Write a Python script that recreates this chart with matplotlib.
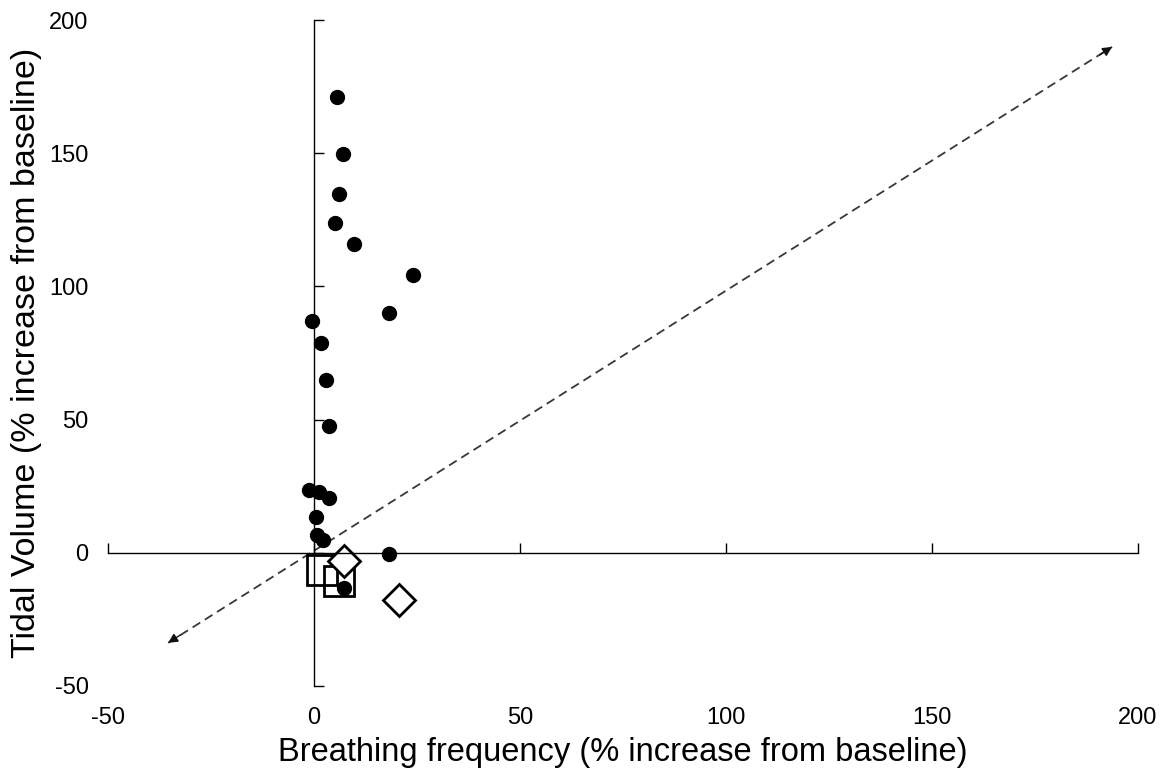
import matplotlib
matplotlib.use("Agg")
import matplotlib.pyplot as plt

plt.rcParams['font.family'] = ['Liberation Sans', 'DejaVu Sans']
plt.rcParams['axes.unicode_minus'] = False

# Filled circles
circle_x = [5.6, 7.0, 6.1, 5.1, 9.7, 24.0, 18.2, -0.5, 1.7, 2.9, 3.6, -1.2, 1.2, 3.6, 0.5, 0.7, 2.2, 18.2, 7.3]
circle_y = [171.1, 149.7, 134.7, 123.8, 115.9, 104.3, 90.1, 87.1, 78.8, 64.9, 47.7, 23.6, 22.9, 20.6, 13.5, 6.8, 4.9, -0.4, -13.1]
# Open squares
square_x = [1.9, 6.0]
square_y = [-6.4, -10.6]
# Open diamonds
diamond_x = [7.3, 20.7]
diamond_y = [-3.0, -17.9]
# Identity line (y = x) endpoints
line_x = [-35.4, 193.7]
line_y = [-33.8, 189.9]

ticks_x = [-50, 0, 50, 100, 150, 200]
ticks_y = [-50, 0, 50, 100, 150, 200]

fig = plt.figure(figsize=(11.65, 7.72), dpi=100)
ax = fig.add_axes([108/1165, 1-686/772, (1138-108)/1165, (686-20)/772])
ax.set_xlim(-50, 200)
ax.set_ylim(-50, 200)

# identity dashed line with arrowheads
ax.plot(line_x, line_y, linestyle=(0, (5, 3)), color='#383838', lw=1.3, zorder=1)
for (x0, y0, x1, y1) in [(line_x[0] + 3, line_y[0] + 3, line_x[0], line_y[0]),
                         (line_x[1] - 3, line_y[1] - 3, line_x[1], line_y[1])]:
    ax.annotate('', xy=(x1, y1), xytext=(x0, y0),
                arrowprops=dict(arrowstyle='-|>', color='#101010', lw=1.0,
                                mutation_scale=14, shrinkA=0, shrinkB=0))

ax.plot(circle_x, circle_y, 'o', color='black', markersize=10, zorder=3)
ax.plot(square_x, square_y, 's', markerfacecolor='none', markeredgecolor='black',
        markersize=21, markeredgewidth=2, zorder=2)
ax.plot(diamond_x, diamond_y, 'D', markerfacecolor='white', markeredgecolor='black',
        markersize=16, markeredgewidth=2, zorder=2)

for s in ['top', 'right']:
    ax.spines[s].set_visible(False)
ax.spines['left'].set_position(('data', 0))
ax.spines['bottom'].set_position(('data', 0))
ax.spines['left'].set_linewidth(1.0)
ax.spines['bottom'].set_linewidth(1.0)
ax.set_xticks(ticks_x)
ax.set_yticks(ticks_y)
ax.tick_params(axis='both', direction='in', length=7, width=1, labelleft=False, labelbottom=False)

secx = ax.secondary_xaxis(0.0)
secx.spines['bottom'].set_visible(False)
secx.set_xticks(ticks_x)
secx.set_xticklabels([str(t) for t in ticks_x])
secx.tick_params(length=0, labelsize=17, pad=15)
secx.set_xlabel('Breathing frequency (% increase from baseline)', fontsize=23.5, labelpad=6)

secy = ax.secondary_yaxis(0.0)
secy.spines['left'].set_visible(False)
secy.set_yticks(ticks_y)
secy.set_yticklabels([str(t) for t in ticks_y])
secy.tick_params(length=0, labelsize=17, pad=14)
secy.set_ylabel('Tidal Volume (% increase from baseline)', fontsize=24.5, labelpad=5)

fig.savefig('out.png', dpi=100)
